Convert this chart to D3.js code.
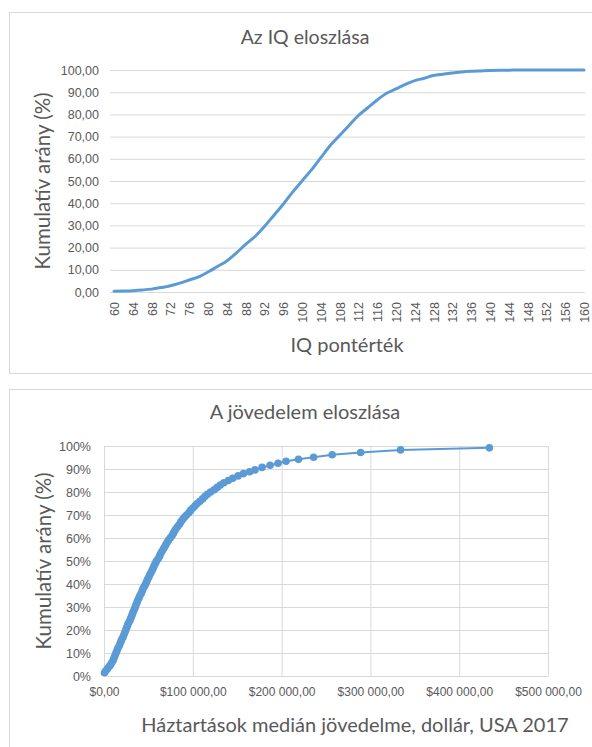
<!DOCTYPE html>
<html>
<head>
<meta charset="utf-8">
<script src="https://cdnjs.cloudflare.com/ajax/libs/d3/7.8.5/d3.min.js"></script>
<style>
  body { margin: 0; background: #fff; }
  svg { display: block; font-family: Lato, "Open Sans", sans-serif; }
</style>
</head>
<body>
<div id="chart"></div>
<script>
// IQ chart: score and cumulative share (%)
var iqScores = [60,62,64,66,68,70,72,74,76,78,80,82,84,86,88,90,92,94,96,98,100,
  102,104,106,108,110,112,114,116,118,120,122,124,126,128,130,132,134,136,138,140,
  142,144,146,148,150,152,154,156,158,160];
var iqCumulative = [0.3,0.4,0.6,0.9,1.3,2.0,2.8,4.0,5.4,6.8,9.0,11.5,14.0,17.5,21.5,25.0,29.5,34.5,39.5,45.0,50.0,
  55.0,60.5,66.0,70.5,75.0,79.5,83.0,86.5,89.5,91.5,93.5,95.2,96.3,97.5,98.1,98.7,99.1,99.4,99.6,99.8,
  99.9,99.9,100,100,100,100,100,100,100,100];
var iqTicks = d3.range(60, 161, 4);
var iqYTicks = [0,10,20,30,40,50,60,70,80,90,100];

// income chart: median household income (thousand $) and cumulative share (%)
var incomeK = [0.5,2,4,6,7.5,9,10.5,11.5,12.5,13.5,14.5,15.5,17,18,19,20,21.5,22.5,23.5,24.5,
  25.5,26.5,27.5,29,30,31,32,33,34.2,35.2,36,37.2,38.2,39.5,40.5,42,43,44,45.5,46.8,
  48,49,50.5,51.5,53,54.2,55.5,56.5,58,59,61,62.5,63.5,65,66.5,68,69.5,71,72.5,74.5,
  76.5,78,79.5,81,83,85,86.5,88.5,90.5,93,95.5,97.5,100,102.5,105,108,111,113.5,116.5,120,
  124,127.5,131,135,140,145,151,157,164,170,178,187,196,205,219,236,257,289,334,434];
var incomeShare = [1.4,2.3,3.2,4.2,5,6,7,8,9,10,11,12,13,14,15,16,17,18,19,20,
  21,22,23,24,25,26,27,28,29,30,31,32,33,34,35,36,37,38,39,40,
  41,42,43,44,45,46,47,48,49,50,51,52,53,54,55,56,57,58,59,60,
  61,62,63,64,65,66,67,68,69,70,71,72,73,74,75,76,77,78,79,80,
  81,82,83,84,85,86,87,88,88.8,89.6,90.7,91.6,92.5,93.4,94.2,95.1,96.2,97.2,98.3,99.2];
var incomeXTicks = [0,100000,200000,300000,400000,500000];
var incomeYTicks = [0,10,20,30,40,50,60,70,80,90,100];

var width = 592, height = 747;
var blue = "#5B9BD5", textColor = "#595959", gridColor = "#D9D9D9";

var svg = d3.select("#chart").append("svg")
  .attr("width", width)
  .attr("height", height);

//chart frames
svg.append("rect")
  .attr("x", 9.5).attr("y", 12.5)
  .attr("width", 620).attr("height", 361)
  .attr("fill", "none").attr("stroke", gridColor);

svg.append("rect")
  .attr("x", 9.5).attr("y", 389.5)
  .attr("width", 620).attr("height", 400)
  .attr("fill", "none").attr("stroke", gridColor);

// ---------- IQ chart ----------
var x1 = d3.scaleLinear().domain([60, 160]).range([114, 584]);
var y1 = d3.scaleLinear().domain([0, 100]).range([292, 70]);

var g1 = svg.append("g");

//horizontal gridlines
g1.append("g")
  .attr("class", "grid")
  .attr("transform", "translate(" + 110 + ",0)")
  .call(d3.axisLeft(y1)
    .tickValues(iqYTicks)
    .tickSize(-475)
    .tickFormat(""))
  .call(function(a){ a.select(".domain").remove(); })
  .selectAll("line")
  .attr("stroke", gridColor);

//y labels
g1.append("g")
  .attr("transform", "translate(" + 110 + ",0)")
  .call(d3.axisLeft(y1)
    .tickValues(iqYTicks)
    .tickSize(0)
    .tickPadding(11)
    .tickFormat(function(d){ return d3.format(".2f")(d).replace(".", ","); }))
  .call(function(a){ a.select(".domain").remove(); })
  .selectAll("text")
  .attr("fill", textColor)
  .style("font-size", "12.5px");

//x labels, rotated
g1.append("g")
  .attr("transform", "translate(0," + y1(0) + ")")
  .call(d3.axisBottom(x1)
    .tickValues(iqTicks)
    .tickSize(0)
    .tickFormat(d3.format("d")))
  .call(function(a){ a.select(".domain").remove(); })
  .selectAll("text")
  .attr("transform", "rotate(-90)")
  .attr("x", -10)
  .attr("y", 0)
  .attr("dy", "0.36em")
  .style("text-anchor", "end")
  .attr("fill", textColor)
  .style("font-size", "12.5px");

var iqData = iqScores.map(function(d, i){ return {x: d, y: iqCumulative[i]}; });

g1.append("path")
  .datum(iqData)
  .attr("fill", "none")
  .attr("stroke", blue)
  .attr("stroke-width", 3)
  .attr("stroke-linejoin", "round")
  .attr("stroke-linecap", "round")
  .attr("d", d3.line()
    .curve(d3.curveMonotoneX)
    .x(function(d){ return x1(d.x); })
    .y(function(d){ return y1(d.y); }));

//titles
g1.append("text")
  .attr("x", 305).attr("y", 44)
  .attr("text-anchor", "middle")
  .attr("fill", textColor)
  .style("font-size", "19.5px")
  .text("Az IQ eloszlása");

g1.append("text")
  .attr("x", 347).attr("y", 352)
  .attr("text-anchor", "middle")
  .attr("fill", textColor)
  .style("font-size", "20px")
  .text("IQ pontérték");

g1.append("text")
  .attr("transform", "translate(50,181) rotate(-90)")
  .attr("text-anchor", "middle")
  .attr("fill", textColor)
  .style("font-size", "20.5px")
  .text("Kumulatív arány (%)");

// ---------- income chart ----------
var x2 = d3.scaleLinear().domain([0, 500000]).range([104, 548]);
var y2 = d3.scaleLinear().domain([0, 100]).range([676, 446]);

var g2 = svg.append("g");

g2.append("g")
  .attr("transform", "translate(" + x2(0) + ",0)")
  .call(d3.axisLeft(y2)
    .tickValues(incomeYTicks)
    .tickSize(-(x2(500000) - x2(0)))
    .tickPadding(13)
    .tickFormat(function(d){ return d + "%"; }))
  .call(function(a){ a.select(".domain").remove(); })
  .call(function(a){
    a.selectAll("line").attr("stroke", gridColor);
    a.selectAll("text").attr("fill", textColor).style("font-size", "12.5px");
  });

g2.append("g")
  .attr("transform", "translate(0," + y2(0) + ")")
  .call(d3.axisBottom(x2)
    .tickValues(incomeXTicks)
    .tickSize(-(y2(0) - y2(100)))
    .tickPadding(11)
    .tickFormat(function(d){
      return "$" + d3.format(",.2f")(d).replace(/,/g, " ").replace(".", ",");
    }))
  .call(function(a){ a.select(".domain").remove(); })
  .call(function(a){
    a.selectAll("line").attr("stroke", gridColor);
    a.selectAll("text").attr("fill", textColor).style("font-size", "12px");
  });

var incomeData = incomeK.map(function(d, i){ return {x: d * 1000, y: incomeShare[i]}; });

g2.append("path")
  .datum(incomeData)
  .attr("fill", "none")
  .attr("stroke", blue)
  .attr("stroke-width", 2)
  .attr("d", d3.line()
    .x(function(d){ return x2(d.x); })
    .y(function(d){ return y2(d.y); }));

g2.append("g")
  .selectAll("circle")
  .data(incomeData)
  .enter().append("circle")
  .attr("cx", function(d){ return x2(d.x); })
  .attr("cy", function(d){ return y2(d.y); })
  .attr("r", 3.8)
  .attr("fill", blue);

g2.append("text")
  .attr("x", 305).attr("y", 419)
  .attr("text-anchor", "middle")
  .attr("fill", textColor)
  .style("font-size", "20px")
  .text("A jövedelem eloszlása");

g2.append("text")
  .attr("x", 355).attr("y", 732)
  .attr("text-anchor", "middle")
  .attr("fill", textColor)
  .style("font-size", "20px")
  .text("Háztartások medián jövedelme, dollár, USA 2017");

g2.append("text")
  .attr("transform", "translate(51,561) rotate(-90)")
  .attr("text-anchor", "middle")
  .attr("fill", textColor)
  .style("font-size", "20.5px")
  .text("Kumulatív arány (%)");
</script>
</body>
</html>
